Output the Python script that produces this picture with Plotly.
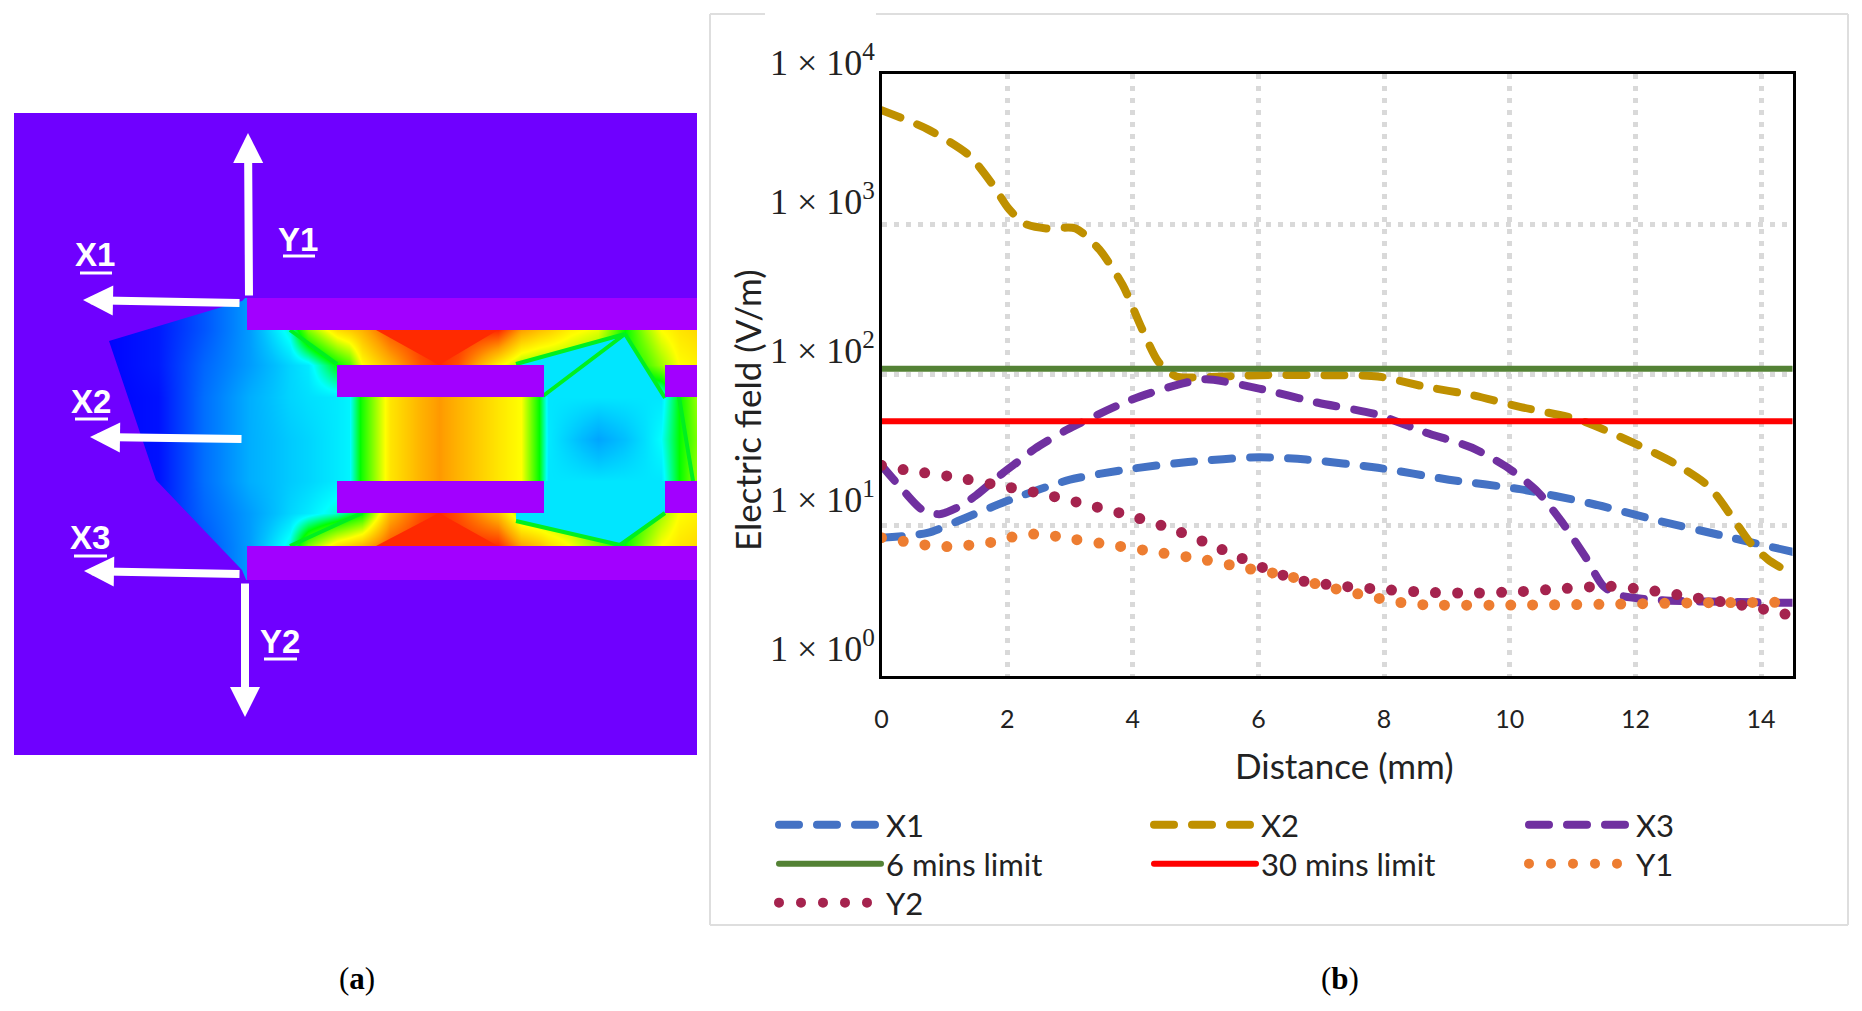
import plotly.graph_objects as go

# panel (b) curves
x1_x = [0, 0.73, 1.39, 2.05, 3.0, 3.94, 4.88, 6.01, 6.76, 7.9, 9.03, 10.16, 11.29, 12.4, 13.36, 14.5]
x1_y = [8.24, 8.86, 11.4, 14.7, 20, 23.5, 26.2, 28.2, 27.2, 24, 20, 17.3, 13.9, 10.6, 8.55, 6.63]

x2_x = [0, 0.73, 1.39, 1.77, 2.02, 2.28, 2.62, 3.09, 3.47, 3.84, 4.13, 4.41, 4.69, 5.07, 6.01, 6.95, 7.9,
        8.65, 9.4, 10.16, 11.1, 11.85, 12.6, 13.17, 13.55, 13.83, 14.11, 14.5]
x2_y = [5705, 4273, 2870, 1825, 1271, 1005, 934, 934, 675, 392, 208, 121, 97, 96, 99, 99, 97,
        83, 73, 61, 50, 37, 26, 18, 11.1, 7.6, 5.9, 4.7]

x3_x = [0, 0.36, 0.64, 0.92, 1.26, 1.51, 1.94, 2.19, 2.44, 2.95, 3.94, 4.69, 5.16, 6.01, 6.95, 7.9, 8.65,
        9.4, 9.97, 10.44, 10.82, 11.2, 11.49, 11.77, 12.43, 13.17, 14.5]
x3_y = [24.9, 16.7, 12.7, 11.8, 13.4, 15.8, 22.3, 26.7, 32.1, 42.9, 67, 85, 93, 80.6, 64.9, 54, 41.3,
        32.6, 24, 16.7, 10.6, 6.17, 3.92, 3.39, 3.16, 3.1, 3.04]

y1_x = [0, 0.41, 0.77, 1.13, 1.49, 1.85, 2.19, 2.56, 2.9, 3.64, 4.35, 5.07, 5.79, 6.49, 7.02, 7.72, 8.07,
        8.42, 8.76, 10.16, 11.93, 12.99, 14.5]
y1_y = [8.24, 7.72, 7.3, 7.18, 7.42, 7.8, 8.55, 8.7, 8.24, 7.39, 6.63, 5.95, 5.18, 4.56, 3.95, 3.39, 3.16,
        2.99, 2.94, 2.94, 2.99, 3.04, 3.07]

y2_x = [0, 0.41, 1.13, 1.85, 2.56, 3.26, 4, 4.69, 5.41, 6.13, 6.65, 7.35, 8.07, 8.76, 9.46, 10.16, 10.86,
        11.58, 12.27, 12.99, 13.68, 14.38, 14.5]
y2_y = [24.9, 23.1, 20.9, 18.4, 16.1, 13.7, 11.4, 9.19, 6.9, 5.09, 4.29, 3.92, 3.71, 3.56, 3.53, 3.61, 3.78,
        3.92, 3.66, 3.27, 2.94, 2.56, 2.41]

limit_x = [0, 14.5]
limit_6min = [109, 109]
limit_30min = [49, 49]

x_ticks = [0, 2, 4, 6, 8, 10, 12, 14]
y_ticks = [1, 10, 100, 1000, 10000]
y_tick_labels = ["1 × 10<sup>0</sup>", "1 × 10<sup>1</sup>", "1 × 10<sup>2</sup>", "1 × 10<sup>3</sup>", "1 × 10<sup>4</sup>"]

# panel (a) field map, coarse grid (0 = violet, 1 = red)
field_x = [100, 158, 204, 249, 290, 308, 337, 349, 362, 390, 420, 439, 458, 498, 521, 539, 548, 570, 598, 625, 645, 661, 679, 697]
field_y = [298, 330, 365, 397, 439, 481, 513, 546, 580]
row_plate_top = [.12, .15, .22, .3, .42, .6, .75, .78, .82, .95, 1, 1, 1, 1, .85, .8, .78, .72, .68, .5, .62, .7, .74, .76]
row_channel_top = [.12, .15, .24, .3, .36, .38, .5, .55, .7, .82, .95, 1, .95, .72, .62, .6, .6, .6, .56, .5, .55, .62, .7, .72]
row_mid_top = [.12, .14, .25, .32, .36, .37, .38, .39, .52, .74, .82, .86, .82, .74, .7, .5, .376, .376, .376, .376, .376, .376, .5, .62]
row_mid_center = [.12, .14, .25, .32, .35, .36, .38, .39, .52, .74, .82, .86, .82, .74, .7, .5, .38, .35, .31, .34, .37, .4, .5, .6]
row_mid_bottom = [.12, .14, .25, .32, .35, .36, .38, .39, .52, .74, .82, .86, .82, .74, .7, .5, .376, .376, .376, .376, .376, .376, .5, .62]
row_channel_bottom = [.12, .15, .24, .3, .36, .38, .42, .46, .5, .82, .95, 1, .95, .8, .62, .6, .6, .6, .56, .5, .55, .62, .7, .72]
row_plate_bottom = [.12, .15, .22, .3, .42, .6, .75, .78, .82, .95, 1, 1, 1, 1, .85, .8, .76, .7, .6, .5, .62, .7, .74, .76]
field_z = [row_plate_top, row_plate_top, row_channel_top, row_mid_top, row_mid_center, row_mid_bottom, row_channel_bottom,
           row_plate_bottom, row_plate_bottom]

field_colors = [[0, "#6f00ff"], [.12, "#0000ff"], [.27, "#0080ff"], [.34, "#00c0ff"], [.4, "#00ffff"],
                [.5, "#00ff00"], [.7, "#ffff00"], [.85, "#ffa000"], [1, "#ff2a00"]]

W, H = 1862, 1011
SERIF = "Liberation Serif"
SANS = "Lato"

fig = go.Figure()

fig.add_trace(go.Heatmap(x=field_x, y=field_y, z=field_z, zmin=0, zmax=1, zsmooth="best", colorscale=field_colors,
                         showscale=False, hoverinfo="skip", xaxis="x2", yaxis="y2"))

# one legend per row, the picture has three columns
series = [
    ("X1", x1_x, x1_y, "#4472c4", 8, "20px,18px", "legend"),
    ("X2", x2_x, x2_y, "#bf9000", 8, "20px,18px", "legend"),
    ("X3", x3_x, x3_y, "#7030a0", 8, "20px,18px", "legend"),
    ("6 mins limit", limit_x, limit_6min, "#548235", 6, "solid", "legend2"),
    ("30 mins limit", limit_x, limit_30min, "#ff0000", 6, "solid", "legend2"),
    ("Y1", y1_x, y1_y, "#ed7d31", 11, "0px,22px", "legend2"),
    ("Y2", y2_x, y2_y, "#a5234e", 11, "0px,22px", "legend3"),
]
for name, xs, ys, color, width, dash, legend in series:
    fig.add_trace(go.Scatter(x=xs, y=ys, name=name, mode="lines", legend=legend,
                             line=dict(color=color, width=width, dash=dash, shape="spline", smoothing=0.7)))

PANEL_BG = "#6f00ff"
PLATE = "#a200ff"
RED = "#ff2a00"
GREEN = "#00f020"
CYAN = "#00e6ff"


def rect(x0, y0, x1, y1, color):
    return dict(type="rect", xref="x2", yref="y2", x0=x0, y0=y0, x1=x1, y1=y1, fillcolor=color, line_width=0, layer="above")


def poly(points, color):
    path = "M" + "L".join(f"{x},{y}" for x, y in points) + "Z"
    return dict(type="path", xref="x2", yref="y2", path=path, fillcolor=color, line_width=0, layer="above")


def wire(points, color=GREEN, width=4):
    path = "M" + "L".join(f"{x},{y}" for x, y in points)
    return dict(type="path", xref="x2", yref="y2", path=path, line=dict(color=color, width=width), layer="above")


def row_legend(top):
    return dict(orientation="h", x=774 / W, y=1 - top / H, xanchor="left", yanchor="top", entrywidth=258, entrywidthmode="pixels",
                itemwidth=102, font=dict(family=SANS, size=31, color="#222222"), traceorder="normal", bgcolor="rgba(0,0,0,0)")


shapes = [
    # everything around the field
    rect(14, 113, 697, 298, PANEL_BG),
    rect(14, 580, 697, 755, PANEL_BG),
    poly([(14, 296), (247, 296), (242, 301), (109, 341), (156, 480), (242, 570), (247, 582), (14, 582)], PANEL_BG),
    # red wedges, cyan lobes and the mesh edges
    poly([(376, 330), (498, 330), (439, 365)], RED),
    poly([(376, 546), (498, 546), (439, 513)], RED),
    poly([(516, 365), (625, 334), (665, 397), (544, 397), (544, 365)], CYAN),
    poly([(544, 481), (665, 481), (665, 513), (620, 545), (516, 521), (516, 513), (544, 513)], CYAN),
    wire([(290, 330), (337, 364)]),
    wire([(516, 364), (625, 334), (543, 396)]),
    wire([(625, 334), (665, 398)]),
    wire([(679, 397), (693, 481)]),
    wire([(290, 546), (362, 513)]),
    wire([(516, 521), (620, 545), (665, 513)]),
    # plates
    rect(247, 298, 697, 330, PLATE),
    rect(247, 546, 697, 580, PLATE),
    rect(337, 365, 544, 397, PLATE),
    rect(337, 481, 544, 513, PLATE),
    rect(665, 365, 697, 397, PLATE),
    rect(665, 481, 697, 513, PLATE),
    # label underlines
    wire([(80, 273), (112, 273)], "white", 3),
    wire([(283, 256), (315, 256)], "white", 3),
    wire([(75, 419), (108, 419)], "white", 3),
    wire([(74, 556), (107, 556)], "white", 3),
    wire([(264, 659), (297, 659)], "white", 3),
]

# frame around panel (b), the top edge has a gap in it
for x0, y0, x1, y1 in [(710, 14, 765, 14), (876, 14, 1848, 14), (710, 14, 710, 925), (1848, 14, 1848, 925), (710, 925, 1848, 925)]:
    shapes.append(dict(type="line", xref="paper", yref="paper", x0=x0 / W, x1=x1 / W, y0=1 - y0 / H, y1=1 - y1 / H,
                       line=dict(color="#dedede", width=2)))

annotations = []

# hand placed tick labels, they sit above their gridlines
for value, label, shift in zip(y_ticks, y_tick_labels, [29, 28, 26, 25, 13]):
    annotations.append(dict(xref="paper", yref="y", x=877 / W, y=len(str(value)) - 1, yshift=shift, text=label, showarrow=False,
                            xanchor="right", yanchor="middle", font=dict(family=SERIF, size=36, color="#222222")))

annotations.append(dict(xref="paper", yref="paper", x=747 / W, y=1 - 410 / H, text="Electric field (V/m)", textangle=-90,
                        showarrow=False, xanchor="center", yanchor="middle", font=dict(family=SANS, size=35, color="#222222")))
annotations.append(dict(xref="paper", yref="paper", x=1344 / W, y=1 - 765 / H, text="Distance (mm)",
                        showarrow=False, xanchor="center", yanchor="middle", font=dict(family=SANS, size=35, color="#222222")))
annotations.append(dict(xref="paper", yref="paper", x=357 / W, y=1 - 978 / H, text="(<b>a</b>)",
                        showarrow=False, xanchor="center", yanchor="middle", font=dict(family=SERIF, size=31, color="black")))
annotations.append(dict(xref="paper", yref="paper", x=1340 / W, y=1 - 978 / H, text="(<b>b</b>)",
                        showarrow=False, xanchor="center", yanchor="middle", font=dict(family=SERIF, size=31, color="black")))

# panel (a) arrows and names
for tail_x, tail_y, tip_x, tip_y in [(249, 297, 248, 133), (241, 303, 83, 300), (243, 439, 90, 437), (241, 574, 84, 571), (245, 582, 245, 717)]:
    annotations.append(dict(xref="x2", yref="y2", axref="x2", ayref="y2", x=tip_x, y=tip_y, ax=tail_x, ay=tail_y, text="",
                            showarrow=True, arrowhead=2, arrowsize=0.75, arrowwidth=8, arrowcolor="white"))
for label, x, y in [("X1", 95, 254), ("Y1", 298, 239), ("X2", 91, 401), ("X3", 90, 537), ("Y2", 280, 641)]:
    annotations.append(dict(xref="x2", yref="y2", x=x, y=y, text=f"<b>{label}</b>", showarrow=False,
                            font=dict(family="Liberation Sans Narrow, Liberation Sans", size=33, color="white")))

fig.update_layout(
    width=W,
    height=H,
    margin=dict(l=0, r=0, t=0, b=0, autoexpand=False),
    paper_bgcolor="white",
    plot_bgcolor="white",
    shapes=shapes,
    annotations=annotations,
    showlegend=True,
    legend=row_legend(798),
    legend2=row_legend(837),
    legend3=row_legend(876),
    xaxis=dict(domain=[881.5 / W, 1792.5 / W], range=[0, 14.5], tickvals=x_ticks, ticks="outside", ticklen=19, tickcolor="rgba(0,0,0,0)",
               tickfont=dict(family=SANS, size=25, color="#222222"), showline=True, mirror=True, linecolor="black", linewidth=3,
               showgrid=True, gridcolor="#d9d9d9", gridwidth=5, griddash="5px,7px", zeroline=False, anchor="y"),
    yaxis=dict(domain=[1 - 675.5 / H, 1 - 73.5 / H], type="log", range=[0, 4], tickvals=y_ticks, showticklabels=False,
               showline=True, mirror=True, linecolor="black", linewidth=3,
               showgrid=True, gridcolor="#d9d9d9", gridwidth=5, griddash="5px,7px", zeroline=False, anchor="x"),
    xaxis2=dict(domain=[14 / W, 697 / W], range=[14, 697], visible=False, anchor="y2"),
    yaxis2=dict(domain=[1 - 755 / H, 1 - 113 / H], range=[755, 113], visible=False, anchor="x2"),
)

# rounded dashes and dots, plus no page margin
round_caps = """
var s = document.createElement('style');
s.textContent = '.js-line{stroke-linecap:round !important} body{margin:0;overflow:hidden}';
document.head.appendChild(s);
"""
fig.write_html("out.html", post_script=round_caps, config=dict(displayModeBar=False))
